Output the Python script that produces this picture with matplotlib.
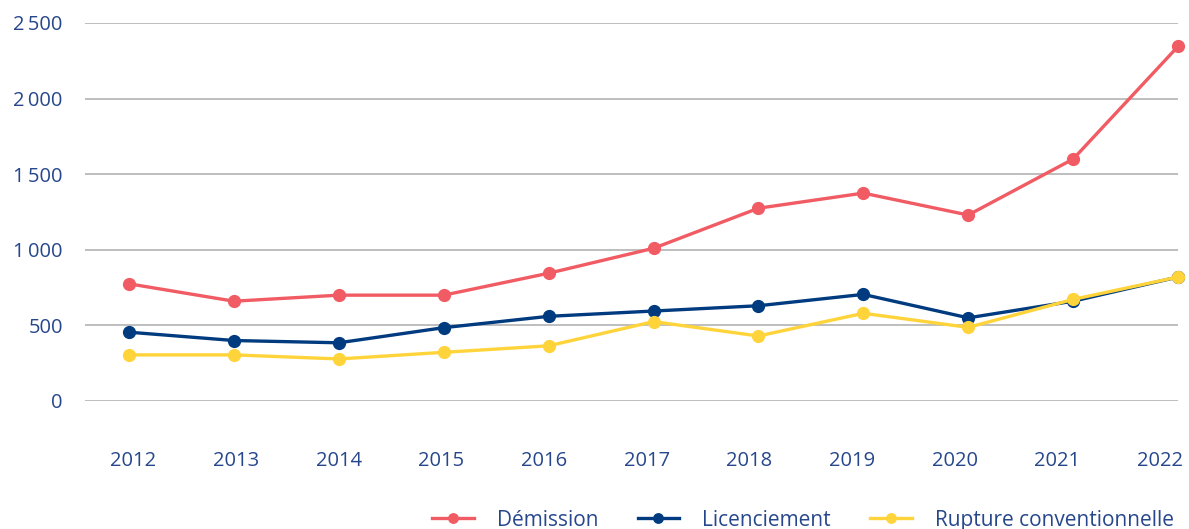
import numpy as np
import matplotlib.pyplot as plt
from matplotlib.ticker import FuncFormatter

plt.rcParams['font.family'] = ['Open Sans', 'DejaVu Sans']

years = [2012, 2013, 2014, 2015, 2016, 2017, 2018, 2019, 2020, 2021, 2022]
demission = [775, 660, 700, 700, 845, 1010, 1275, 1375, 1230, 1600, 2345]
licenciement = [455, 400, 385, 485, 560, 595, 630, 705, 550, 660, 820]
rupture = [305, 305, 278, 322, 365, 525, 430, 580, 487, 672, 820]

series = [
    ('Démission', demission, '#f15b63'),
    ('Licenciement', licenciement, '#003b80'),
    ('Rupture conventionnelle', rupture, '#ffd43b'),
]

text_color = '#27478c'

fig = plt.figure(figsize=(11.89, 5.29), dpi=100)
ax = fig.add_axes([85 / 1189, 128 / 529, 1093 / 1189, 378 / 529])

for label, values, color in series:
    ax.plot(years, values, color=color, linewidth=2.4, marker='o',
            markersize=8.5, label=label, clip_on=False, zorder=3)

ax.set_xlim(2011.58, 2022.0)
ax.set_ylim(0, 2500)
ax.set_yticks([0, 500, 1000, 1500, 2000, 2500])
ax.yaxis.set_major_formatter(FuncFormatter(
    lambda v, p: f'{int(v):,}'.replace(',', '\u2009') if v >= 1000 else f'{int(v)}'))

# year labels sit on a slightly tighter spacing than the points
ax.set_xticks(np.linspace(years[0] + 0.04, years[-1] - 0.17, len(years)))
ax.set_xticklabels([str(y) for y in years])

ax.grid(axis='y', color='#b3b3b3', linewidth=1.2)
ax.set_axisbelow(True)
for s in ax.spines.values():
    s.set_visible(False)
ax.tick_params(axis='both', length=0, labelsize=14.5, labelcolor=text_color)
ax.tick_params(axis='y', pad=16)
ax.tick_params(axis='x', pad=36)

leg = ax.legend(loc='center right', bbox_to_anchor=(1.004, -0.315), ncol=3,
                frameon=False, fontsize=15, handlelength=2.0, columnspacing=1.9,
                handletextpad=1.1, labelcolor=text_color, borderaxespad=0,
                markerscale=0.8)

plt.savefig('out.png', dpi=100)
